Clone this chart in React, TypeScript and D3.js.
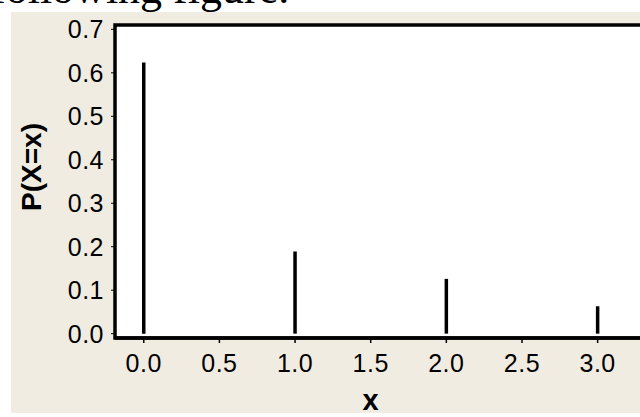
import React from 'react';
import * as d3 from 'd3';

// P(X=x) values
const xValues = [0, 1, 2, 3];
const probabilities = [0.624, 0.189, 0.126, 0.063];
const xTicks = [0, 0.5, 1, 1.5, 2, 2.5, 3];
const yTicks = [0, 0.1, 0.2, 0.3, 0.4, 0.5, 0.6, 0.7];

const W = 640;
const H = 417;
const plot = { left: 115, top: 25, right: 660, bottom: 338 };

export default function App() {
    const x = d3.scaleLinear().domain([-0.19, 3.28]).range([plot.left, 640]);
    const y = d3.scaleLinear().domain([-0.01, 0.71]).range([plot.bottom, plot.top]);

    const tickFont = 'Liberation Sans, Arial, sans-serif';

    return (
        <svg width={W} height={H} style={{ position: 'absolute', left: 0, top: 0, background: '#fff' }}>
            {/* cut-off sentence above the figure */}
            <text x={-9} y={3} fontFamily="Liberation Serif, Times New Roman, serif" fontSize={44} fill="#000">
                following figure.
            </text>

            {/* beige panel */}
            <rect x={11} y={12} width={W} height={401} fill="#F0ECE2" />

            {/* plot area */}
            <rect x={plot.left} y={plot.top} width={plot.right - plot.left} height={plot.bottom - plot.top}
                fill="#fff" stroke="#000" strokeWidth={3.5} />

            {/* y ticks */}
            {yTicks.map(t => (
                <g key={t}>
                    <line x1={plot.left - 4} x2={plot.left} y1={y(t)} y2={y(t)} stroke="#000" strokeWidth={1} />
                    <text x={104} y={y(t)} dy="0.36em" textAnchor="end" fontFamily={tickFont} fontSize={25}
                        letterSpacing={0.5} fill="#000">
                        {d3.format('.1f')(t)}
                    </text>
                </g>
            ))}

            {/* x ticks */}
            {xTicks.map(t => (
                <g key={t}>
                    <line x1={x(t)} x2={x(t)} y1={plot.bottom} y2={plot.bottom + 5} stroke="#000" strokeWidth={1.5} />
                    <text x={x(t)} y={363} dy="0.36em" textAnchor="middle" fontFamily={tickFont} fontSize={25}
                        letterSpacing={0.5} fill="#000">
                        {d3.format('.1f')(t)}
                    </text>
                </g>
            ))}

            {/* probability spikes */}
            {xValues.map((v, i) => (
                <line key={v} x1={x(v)} x2={x(v)} y1={y(0)} y2={y(probabilities[i])}
                    stroke="#000" strokeWidth={3.5} />
            ))}

            {/* redraw bottom border over the spikes */}
            <line x1={plot.left} x2={W} y1={plot.bottom} y2={plot.bottom} stroke="#000" strokeWidth={3.5} />

            {/* axis titles */}
            <text x={x(1.5)} y={400} dy="0.36em" textAnchor="middle" fontFamily={tickFont} fontWeight="bold" fontSize={29} fill="#000">
                x
            </text>
            <text transform={`translate(31,167) rotate(-90)`} dy="0.36em" textAnchor="middle" fontFamily={tickFont}
                fontWeight="bold" fontSize={28} fill="#000">
                P(X=x)
            </text>
        </svg>
    );
}
